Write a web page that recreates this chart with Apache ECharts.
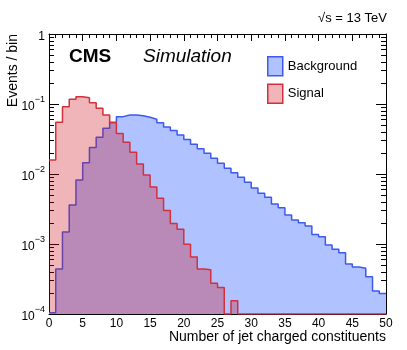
<!DOCTYPE html>
<html>
<head>
<meta charset="utf-8">
<script src="https://cdn.jsdelivr.net/npm/echarts@6/dist/echarts.min.js"></script>
<style>
  html, body { margin: 0; padding: 0; background: #fff; }
  #chart { width: 407px; height: 350px; }
</style>
</head>
<body>
<div id="chart"></div>
<script>
// bin lower edges 0..49, width 1 (normalised events per bin)
const binEdges = [];
for (let k = 0; k <= 50; k++) binEdges.push(k);

const background = [
  0.000104, 0.00044, 0.00148, 0.0036, 0.0082, 0.0145, 0.024, 0.0334, 0.0449, 0.0547,
  0.066, 0.0697, 0.0697, 0.068, 0.0645, 0.0605, 0.054, 0.047, 0.0418, 0.036,
  0.031, 0.0266, 0.0229, 0.0198, 0.0168, 0.0142, 0.0121, 0.0104, 0.0090, 0.0076,
  0.0063, 0.0053, 0.00464, 0.00372, 0.0033, 0.0026, 0.0022, 0.00202, 0.00181, 0.00137,
  0.00127, 0.00097, 0.00084, 0.00075, 0.00052, 0.00047, 0.00045, 0.00034, 0.000213, 0.000197
];
const signal = [
  0.0158, 0.055, 0.091, 0.117, 0.127, 0.123, 0.104, 0.087, 0.0697, 0.054,
  0.038, 0.0284, 0.0204, 0.0139, 0.0097, 0.0065, 0.0045, 0.0030, 0.00197, 0.00162,
  0.00099, 0.00065, 0.00044, 0.00043, 0.000275, 0.00024, 0, 0.000155, 0, 0,
  0, 0, 0, 0, 0, 0, 0, 0, 0, 0,
  0, 0, 0, 0, 0, 0, 0, 0, 0, 0
];
const yDecades = [1e-4, 1e-3, 1e-2, 1e-1, 1];

const FONT = 'Liberation Sans, Arial, Helvetica, sans-serif';
const yMin = 1e-4, yMax = 1;

// log axis minor ticks 2..9 x 10^d
const yMinor = [];
for (let d = -4; d <= -1; d++) {
  for (let m = 2; m <= 9; m++) yMinor.push(Number(m + 'e' + d));
}

// histogram -> step points, empty bins sit on the axis floor
function histPoints(vals) {
  const pts = vals.map((v, i) => [binEdges[i], v > 0 ? v : yMin]);
  const last = vals[vals.length - 1];
  pts.push([binEdges[vals.length], last > 0 ? last : yMin]);
  return pts;
}

const chart = echarts.init(document.getElementById('chart'));

const minorY = (pos) => ({
  type: 'log', position: pos, min: yMin, max: yMax, logBase: 10,
  axisLine: { show: false },
  axisLabel: { show: false },
  splitLine: { show: false },
  axisTick: { show: true, inside: true, length: 5, customValues: yMinor, lineStyle: { color: '#000' } }
});

chart.setOption({
  animation: false,
  title: [
    { text: 'CMS', left: 69, top: 47, padding: 0,
      textStyle: { fontFamily: FONT, fontWeight: 'bold', fontSize: 19, color: '#000' } },
    { text: 'Simulation', left: 143, top: 47, padding: 0,
      textStyle: { fontFamily: FONT, fontStyle: 'italic', fontWeight: 'normal', fontSize: 19, color: '#000' } },
    { text: '√s = 13 TeV', right: 20, top: 12, padding: 0,
      textStyle: { fontFamily: FONT, fontWeight: 'normal', fontSize: 13, color: '#000' } }
  ],
  // y axis title, rotated and flush with the top of the frame
  graphic: [
    { type: 'text', x: 13, y: 34, rotation: Math.PI / 2,
      style: { text: 'Events / bin', font: '14px ' + FONT, fill: '#000', align: 'right', verticalAlign: 'middle' } }
  ],
  legend: {
    orient: 'vertical', left: 267, top: 56, padding: 0,
    itemWidth: 15, itemHeight: 19, itemGap: 7,
    icon: 'rect',
    textStyle: { fontFamily: FONT, fontSize: 13, color: '#000' },
    data: [
      { name: 'Background', itemStyle: { color: '#b0c2ff', borderColor: '#3c5af0', borderWidth: 1.5 } },
      { name: 'Signal', itemStyle: { color: 'rgba(205,10,20,0.3)', borderColor: '#d4303c', borderWidth: 1.5 } }
    ]
  },
  grid: { left: 49, right: 21, top: 34, bottom: 36 },
  xAxis: [
    {
      type: 'value', position: 'bottom', min: 0, max: 50, interval: 5,
      name: 'Number of jet charged constituents', nameLocation: 'end', nameGap: 0,
      nameTextStyle: { fontFamily: FONT, fontSize: 14, color: '#000', align: 'right', verticalAlign: 'top', padding: [16, 0, 0, 0] },
      axisLine: { show: true, lineStyle: { color: '#000', width: 1 } },
      axisTick: { show: true, inside: true, length: 7, lineStyle: { color: '#000' } },
      minorTick: { show: true, splitNumber: 5, length: 4, lineStyle: { color: '#000' } },
      axisLabel: { fontFamily: FONT, fontSize: 12, color: '#000', margin: 4 },
      splitLine: { show: false }
    },
    {
      type: 'value', position: 'top', min: 0, max: 50, interval: 5,
      axisLine: { show: true, onZero: false, lineStyle: { color: '#000', width: 1 } },
      axisTick: { show: true, inside: true, length: 7, lineStyle: { color: '#000' } },
      minorTick: { show: true, splitNumber: 5, length: 4, lineStyle: { color: '#000' } },
      axisLabel: { show: false },
      splitLine: { show: false }
    }
  ],
  yAxis: [
    {
      type: 'log', position: 'left', min: yMin, max: yMax, logBase: 10, interval: 1,
      axisLine: { show: true, lineStyle: { color: '#000', width: 1 } },
      axisTick: { show: true, inside: true, length: 10, customValues: yDecades, lineStyle: { color: '#000' } },
      axisLabel: {
        margin: 4,
        customValues: yDecades,
        formatter: function (v) {
          if (v >= 1) return '{b|1}';
          const e = Math.round(Math.log10(v));
          return '{b|10}{e|−' + (-e) + '}';
        },
        rich: {
          b: { fontFamily: FONT, fontSize: 12, color: '#000', lineHeight: 18, verticalAlign: 'bottom' },
          e: { fontFamily: FONT, fontSize: 9, color: '#000', lineHeight: 18, verticalAlign: 'top' }
        }
      },
      splitLine: { show: false }
    },
    minorY('left'),
    {
      type: 'log', position: 'right', min: yMin, max: yMax, logBase: 10,
      axisLine: { show: true, lineStyle: { color: '#000', width: 1 } },
      axisTick: { show: true, inside: true, length: 10, customValues: yDecades, lineStyle: { color: '#000' } },
      axisLabel: { show: false },
      splitLine: { show: false }
    },
    minorY('right')
  ],
  series: [
    {
      name: 'Background', type: 'line', step: 'end', xAxisIndex: 0, yAxisIndex: 0,
      data: histPoints(background),
      showSymbol: false, symbol: 'none',
      itemStyle: { color: '#3c5af0' },
      lineStyle: { color: '#3c5af0', width: 1.5 },
      areaStyle: { color: '#b0c2ff', opacity: 1, origin: 'start' },
      z: 2
    },
    {
      name: 'Signal', type: 'line', step: 'end', xAxisIndex: 0, yAxisIndex: 0,
      data: histPoints(signal),
      showSymbol: false, symbol: 'none',
      itemStyle: { color: '#d4303c' },
      lineStyle: { color: '#d4303c', width: 1.5 },
      areaStyle: { color: 'rgba(205,10,20,0.3)', opacity: 1, origin: 'start' },
      z: 3
    }
  ]
});
</script>
</body>
</html>
